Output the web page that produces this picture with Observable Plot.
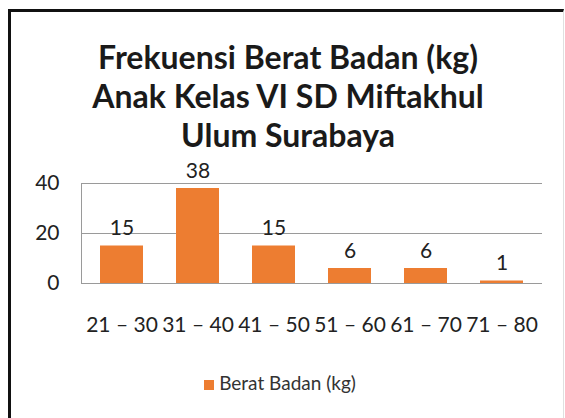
<!DOCTYPE html>
<html><head><meta charset="utf-8">
<script src="https://cdn.jsdelivr.net/npm/d3@7"></script>
<script src="https://cdn.jsdelivr.net/npm/@observablehq/plot@0.6"></script>
<style>
body{margin:0;background:#fff;width:565px;height:418px;overflow:hidden;position:relative;font-family:Lato,"Open Sans",sans-serif;}
#frame{position:absolute;left:8px;top:9px;width:552px;height:420px;border-left:3px solid #111;border-top:3px solid #111;border-right:1px solid #e0e0e0;}
#title{position:absolute;left:48px;width:480px;top:37px;text-align:center;font-weight:bold;font-size:32px;line-height:39px;color:#1a1a1a;}
#chart{position:absolute;left:0;top:160px;}
#legend{position:absolute;left:0;width:560px;top:371px;text-align:center;font-size:19px;color:#333;line-height:24px;}
#legend .sw{display:inline-block;width:10px;height:10px;background:#ED7D31;margin-right:5px;vertical-align:0px;}
</style></head>
<body>
<div id="frame"></div>
<div id="title"></div>
<div id="chart"></div>
<div id="legend"></div>
<script>
const titleLines = ["Frekuensi Berat Badan (kg)", "Anak Kelas VI SD Miftakhul", "Ulum Surabaya"];
const categories = ["21 – 30", "31 – 40", "41 – 50", "51 – 60", "61 – 70", "71 – 80"];
const values = [15, 38, 15, 6, 6, 1];
const yTicks = [0, 20, 40];
const seriesName = "Berat Badan (kg)";
const barColor = "#ED7D31";

const data = categories.map((c, i) => ({kelas: c, jumlah: values[i]}));

document.getElementById("title").innerHTML = titleLines.map(t => `<div>${t}</div>`).join("");
document.getElementById("legend").innerHTML = `<span class="sw"></span>${seriesName}`;

const chart = Plot.plot({
  width: 565,
  height: 190,
  marginLeft: 81,
  marginRight: 23,
  marginTop: 23,
  marginBottom: 67,
  style: {fontFamily: "Lato, 'Open Sans', sans-serif", fontSize: "21px", color: "#222", background: "transparent", overflow: "visible"},
  x: {domain: categories, paddingInner: 0.44, paddingOuter: 0.22, label: null},
  y: {domain: [0, 40], label: null},
  marks: [
    Plot.gridY(yTicks, {stroke: "#9a9a9a", strokeOpacity: 1}),
    Plot.frame({anchor: "left", stroke: "#9a9a9a"}),
    Plot.barY(data, {x: "kelas", y: "jumlah", fill: barColor}),
    Plot.text(data, {x: "kelas", y: "jumlah", text: d => String(d.jumlah), dy: -11, lineAnchor: "bottom", fill: "#222", fontSize: 21}),
    Plot.axisY(yTicks, {tickSize: 0, tickPadding: 22, label: null, fontSize: 21}),
    Plot.axisX({tickSize: 0, tickPadding: 34, label: null, fontSize: 21})
  ]
});
document.getElementById("chart").appendChild(chart);
</script>
</body></html>
